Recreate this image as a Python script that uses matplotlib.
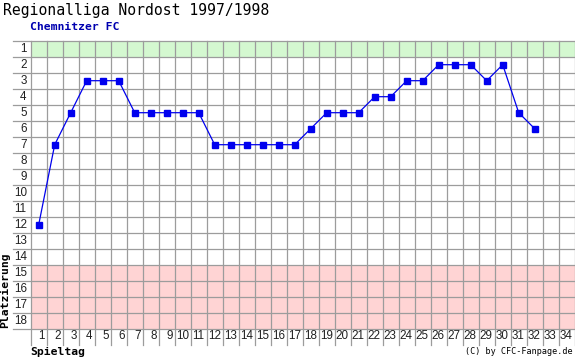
import matplotlib
matplotlib.use("Agg")
import matplotlib.pyplot as plt

title = "Regionalliga Nordost 1997/1998"
team = "Chemnitzer FC"
matchdays = list(range(1, 33))
ranks = [12, 7, 5, 3, 3, 3, 5, 5, 5, 5, 5, 7, 7, 7, 7, 7, 7, 6, 5, 5, 5,
         4, 4, 3, 3, 2, 2, 2, 3, 2, 5, 6]
n_days = 34
n_teams = 18
promotion_rows = [1]
relegation_rows = [15, 16, 17, 18]

W, H = 575, 359
fig = plt.figure(figsize=(W / 100, H / 100), dpi=100)
fig.patch.set_facecolor("white")

# grid area in pixels
gx0, gx1 = 30.7, 574.7
gy0, gy1 = 40.7, 328.7
ax = fig.add_axes([gx0 / W, 1 - gy1 / H, (gx1 - gx0) / W, (gy1 - gy0) / H])
ax.set_xlim(0.5, n_days + 0.5)
ax.set_ylim(n_teams + 0.5, 0.5)
ax.axis("off")

cell = (gx1 - gx0) / n_days  # px per unit

for r in promotion_rows:
    ax.axhspan(r - 0.5, r + 0.5, color="#d4f8d0", zorder=0, lw=0)
for r in relegation_rows:
    ax.axhspan(r - 0.5, r + 0.5, color="#ffd4d4", zorder=0, lw=0)

gc = "#9c9c9c"
left_ext = 0.5 - (gx0 - 13) / cell
for k in range(n_teams + 1):
    y = k + 0.5
    ax.plot([left_ext, n_days + 0.5], [y, y], color=gc, lw=0.9, clip_on=False, zorder=1)
bottom_ext = n_teams + 0.5 + (345 - gy1) / cell
for k in range(n_days + 1):
    x = k + 0.5
    ax.plot([x, x], [0.5, bottom_ext], color=gc, lw=0.9, clip_on=False, zorder=1)

ax.plot(matchdays, ranks, color="#0000ee", lw=0.9, marker="s", markersize=5,
        markerfacecolor="#0000ee", markeredgecolor="#0000ee", zorder=3, clip_on=False)

fs = 8.4
tf = "Liberation Sans"
for d in range(1, n_days + 1):
    ax.text(d + 0.5 - 2.0 / cell, n_teams + 0.5 + 7 / cell, str(d), ha="right", va="center",
            fontsize=fs, family=tf, color="#202020", clip_on=False)
for r in range(1, n_teams + 1):
    ax.text(0.5 - 4 / cell, r, str(r), ha="right", va="center",
            fontsize=fs, family=tf, color="#202020", clip_on=False)

mono = "DejaVu Sans Mono"
fig.text(3 / W, 1 - 10 / H, title, ha="left", va="center", fontsize=10.6,
         family=mono, color="black")
fig.text(30 / W, 1 - 26.7 / H, team, ha="left", va="center", fontsize=8.2,
         family=mono, weight="bold", color="#0000b0")
fig.text(5.5 / W, 1 - 328.5 / H, "Platzierung", ha="center", va="bottom", rotation=90,
         fontsize=8.2, family=mono, weight="bold", color="black")
fig.text(30 / W, 1 - 351.5 / H, "Spieltag", ha="left", va="center", fontsize=8.2,
         family=mono, weight="bold", color="black")
fig.text(573 / W, 1 - 352 / H, "(C) by CFC-Fanpage.de", ha="right", va="center",
         fontsize=6.1, family=mono, color="black")

fig.savefig("out.png", dpi=100, facecolor="white")
